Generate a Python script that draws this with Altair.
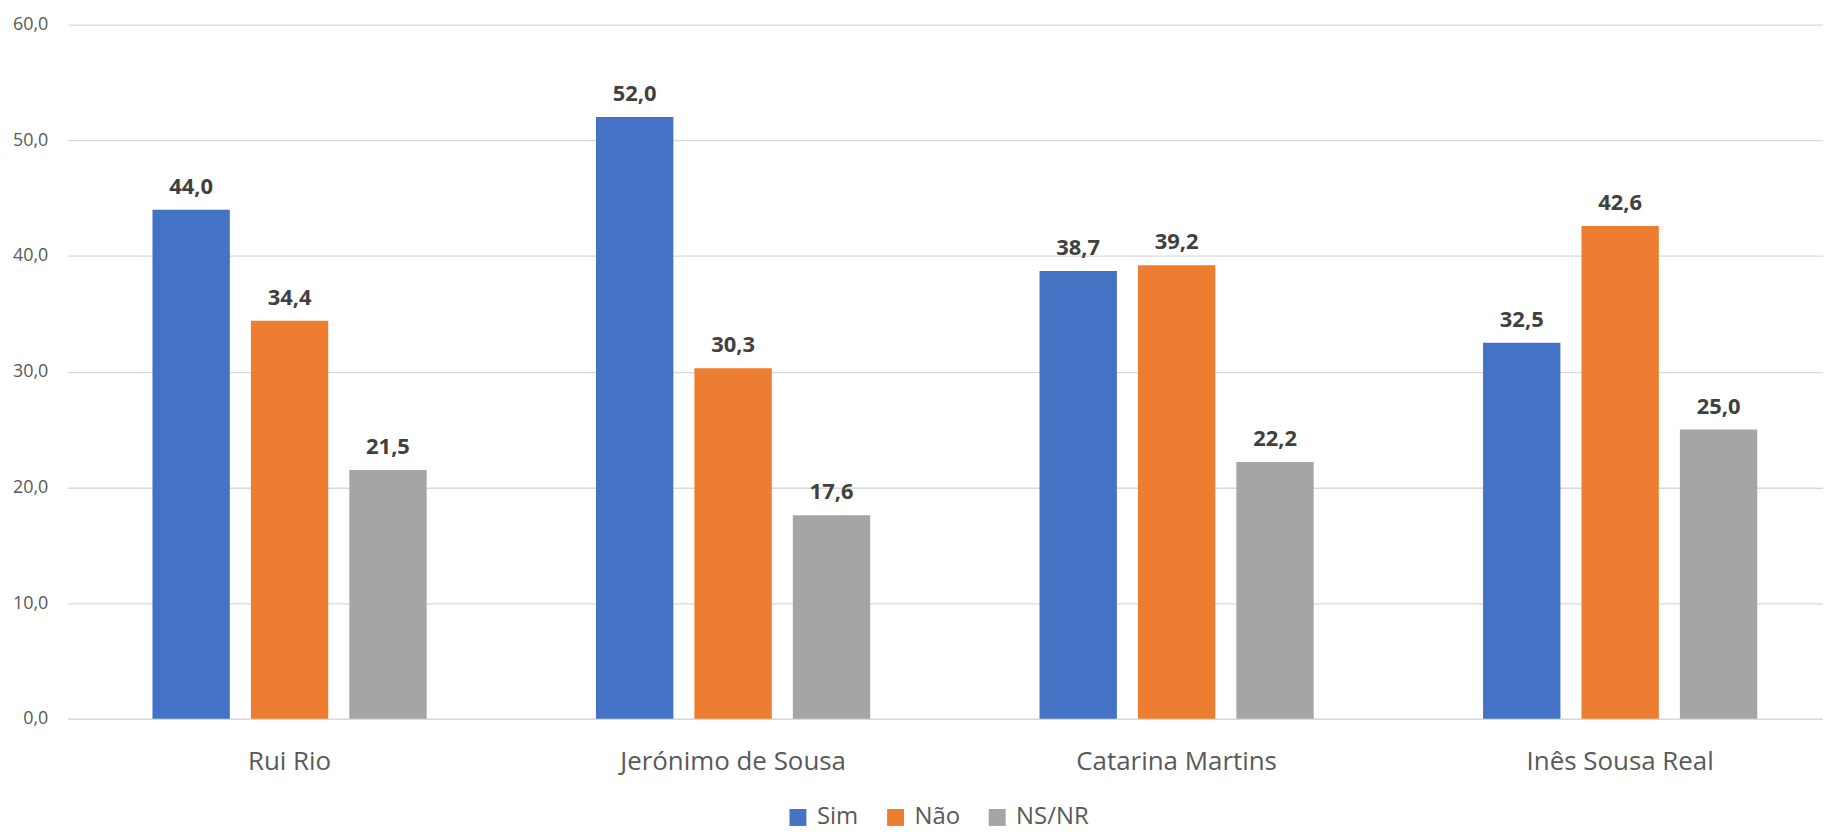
import altair as alt
import pandas as pd

categories = ["Rui Rio", "Jerónimo de Sousa", "Catarina Martins", "Inês Sousa Real"]
series = ["Sim", "Não", "NS/NR"]
sim = [44.0, 52.0, 38.7, 32.5]
nao = [34.4, 30.3, 39.2, 42.6]
nsnr = [21.5, 17.6, 22.2, 25.0]
colors = ["#4472C4", "#ED7D31", "#A5A5A5"]

rows = []
for i, c in enumerate(categories):
    for s, vals in zip(series, [sim, nao, nsnr]):
        rows.append({"cat": c, "serie": s, "valor": vals[i]})
df = pd.DataFrame(rows)

FONT = "Open Sans"

base = alt.Chart(df).encode(
    x=alt.X("cat:N", sort=categories, title=None,
            scale=alt.Scale(paddingInner=0.3818, paddingOuter=0.1696, align=0.563),
            axis=alt.Axis(labelAngle=0, ticks=False, labelPadding=30, labelFontSize=26,
                          labelFont=FONT, labelColor="#595959", domainColor="#d9d9d9",
                          domainWidth=1.5, grid=False, labelLimit=0)),
    xOffset=alt.XOffset("serie:N", sort=series,
                        scale=alt.Scale(paddingInner=0.214, paddingOuter=0)),
)

bars = base.mark_bar().encode(
    y=alt.Y("valor:Q", title=None,
            scale=alt.Scale(domain=[0, 60], nice=False),
            axis=alt.Axis(values=[0, 10, 20, 30, 40, 50, 60], ticks=False, domain=False,
                          labelPadding=20, labelFontSize=18, labelFont=FONT,
                          labelColor="#595959", gridColor="#d9d9d9", gridWidth=1.3,
                          labelExpr="replace(format(datum.value, '.1f'), '.', ',')")),
    color=alt.Color("serie:N", sort=series,
                    scale=alt.Scale(domain=series, range=colors),
                    legend=alt.Legend(title=None, orient="none", direction="horizontal",
                                      legendX=721, legendY=784, symbolType="square",
                                      symbolSize=289, symbolStrokeWidth=0, labelFontSize=24,
                                      labelFont=FONT, labelColor="#595959", labelOffset=7,
                                      columnPadding=25, padding=0)),
)

labels = base.mark_text(baseline="alphabetic", dy=-16, fontSize=22, fontWeight="bold",
                        font=FONT, color="#404040").transform_calculate(
    lbl="replace(format(datum.valor, '.1f'), '.', ',')"
).encode(
    y=alt.Y("valor:Q"),
    text="lbl:N",
)

chart = alt.layer(bars, labels).properties(
    width=1762, height=697,
    autosize=alt.AutoSizeParams(type="none"),
    padding={"left": 60, "top": 15, "right": 0, "bottom": 112},
).configure_view(stroke=None)

chart.save("out.html", embed_options={"renderer": "svg", "actions": False})
